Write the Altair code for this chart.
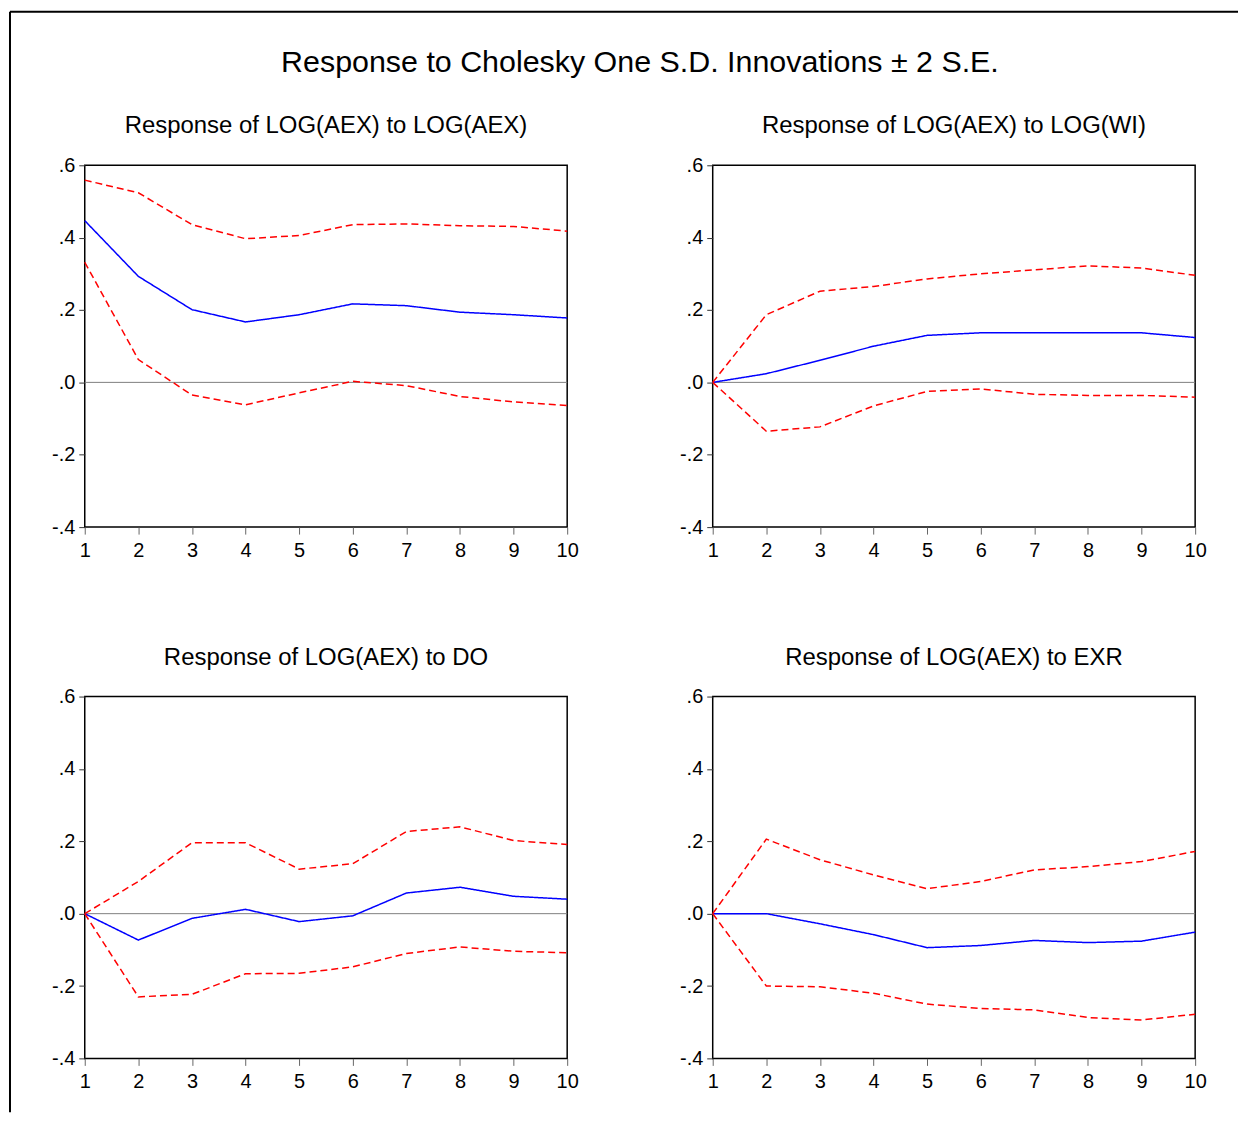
import altair as alt
import pandas as pd

# ---------------- data ----------------
periods = [1, 2, 3, 4, 5, 6, 7, 8, 9, 10]

main_title = "Response to Cholesky One S.D. Innovations \u00b1 2 S.E."

panel_titles = [
    "Response of LOG(AEX) to LOG(AEX)",
    "Response of LOG(AEX) to LOG(WI)",
    "Response of LOG(AEX) to DO",
    "Response of LOG(AEX) to EXR",
]

aex_to_aex_resp = [0.447, 0.293, 0.201, 0.167, 0.187, 0.217, 0.212, 0.194, 0.187, 0.178]
aex_to_aex_upper = [0.559, 0.524, 0.436, 0.397, 0.406, 0.436, 0.438, 0.433, 0.431, 0.418]
aex_to_aex_lower = [0.332, 0.063, -0.035, -0.062, -0.029, 0.003, -0.009, -0.039, -0.054, -0.064]

aex_to_wi_resp = [0.0, 0.024, 0.061, 0.100, 0.130, 0.137, 0.137, 0.137, 0.137, 0.124]
aex_to_wi_upper = [0.0, 0.187, 0.252, 0.265, 0.286, 0.300, 0.311, 0.322, 0.316, 0.296]
aex_to_wi_lower = [0.0, -0.135, -0.123, -0.065, -0.025, -0.018, -0.033, -0.036, -0.036, -0.041]

aex_to_do_resp = [0.0, -0.073, -0.013, 0.012, -0.022, -0.006, 0.057, 0.073, 0.048, 0.040]
aex_to_do_upper = [0.0, 0.089, 0.196, 0.196, 0.123, 0.138, 0.227, 0.240, 0.202, 0.191]
aex_to_do_lower = [0.0, -0.230, -0.223, -0.166, -0.165, -0.147, -0.110, -0.092, -0.104, -0.108]

aex_to_exr_resp = [0.0, 0.0, -0.028, -0.058, -0.094, -0.088, -0.074, -0.080, -0.076, -0.051]
aex_to_exr_upper = [0.0, 0.206, 0.149, 0.107, 0.069, 0.089, 0.121, 0.130, 0.144, 0.172]
aex_to_exr_lower = [0.0, -0.200, -0.202, -0.220, -0.250, -0.262, -0.266, -0.287, -0.294, -0.278]

y_ticks = [-0.4, -0.2, 0.0, 0.2, 0.4, 0.6]
series_names = ["Response", "Upper", "Lower"]

# ---------------- styling ----------------
FONT = "Liberation Sans"
PW, PH = 484, 363
Y_LABEL = "(datum.value < -0.001 ? '-' : '') + '.' + toString(round(abs(datum.value) * 10))"


def panel(title, resp, upper, lower, decorate=False):
    rows = []
    for name, vals in zip(series_names, [resp, upper, lower]):
        for p, v in zip(periods, vals):
            rows.append({"period": p, "value": v, "series": name})
    df = pd.DataFrame(rows)

    x = alt.X(
        "period:Q",
        scale=alt.Scale(domain=[1, 10], nice=False, zero=False),
        axis=alt.Axis(
            values=periods, format="d", title=None, labelFlush=False,
            tickSize=7, labelPadding=6, tickColor="#666666",
        ),
    )
    y = alt.Y(
        "value:Q",
        scale=alt.Scale(domain=[-0.4, 0.6], nice=False, zero=False),
        axis=alt.Axis(
            values=y_ticks, title=None, labelFlush=False,
            labelExpr=Y_LABEL,
            tickSize=6, labelPadding=4, tickColor="#333333",
        ),
    )

    zero = alt.Chart(pd.DataFrame({"z": [0.0]})).mark_rule(
        color="#808080", strokeWidth=1
    ).encode(y=alt.Y("z:Q", scale=alt.Scale(domain=[-0.4, 0.6], nice=False)))

    lines = alt.Chart(df).mark_line(strokeWidth=1.5).encode(
        x=x,
        y=y,
        color=alt.Color(
            "series:N",
            scale=alt.Scale(domain=series_names, range=["#0000ff", "#ff0000", "#ff0000"]),
            legend=None,
        ),
        strokeDash=alt.StrokeDash(
            "series:N",
            scale=alt.Scale(domain=series_names, range=[[1, 0], [7, 4], [7, 4]]),
            legend=None,
        ),
        detail="series:N",
    )

    sub_title = alt.Chart(pd.DataFrame({"t": [title]})).mark_text(
        font=FONT, fontSize=24, color="black", align="center", baseline="alphabetic"
    ).encode(text="t:N", x=alt.value(PW / 2), y=alt.value(-32))

    layers = [zero, lines, sub_title]

    if decorate:
        dummy = pd.DataFrame({"d": [0]})
        frame_left = alt.Chart(dummy).mark_rule(color="black", strokeWidth=2).encode(
            x=alt.value(-75), y=alt.value(-154), y2=alt.value(950)
        )
        frame_top = alt.Chart(dummy).mark_rule(color="black", strokeWidth=2).encode(
            y=alt.value(-154), x=alt.value(-75), x2=alt.value(1157)
        )
        big_title = alt.Chart(pd.DataFrame({"t": [main_title]})).mark_text(
            font=FONT, fontSize=30.5, color="black", align="center", baseline="alphabetic"
        ).encode(text="t:N", x=alt.value(557), y=alt.value(-94))
        layers += [frame_left, frame_top, big_title]

    return alt.layer(*layers).properties(width=PW, height=PH)


p1 = panel(panel_titles[0], aex_to_aex_resp, aex_to_aex_upper, aex_to_aex_lower, decorate=True)
p2 = panel(panel_titles[1], aex_to_wi_resp, aex_to_wi_upper, aex_to_wi_lower)
p3 = panel(panel_titles[2], aex_to_do_resp, aex_to_do_upper, aex_to_do_lower)
p4 = panel(panel_titles[3], aex_to_exr_resp, aex_to_exr_upper, aex_to_exr_lower)

chart = alt.concat(
    p1, p2, p3, p4,
    columns=2,
    spacing={"row": 170, "column": 146},
    bounds="flush",
).properties(
    padding=0,
    background="white",
).configure_view(
    stroke="black", strokeWidth=1.5
).configure_axis(
    grid=False,
    domain=False,
    labelFont=FONT,
    labelFontSize=20,
    labelColor="black",
)

chart.save("out.html", embed_options={"renderer": "svg", "actions": False})
